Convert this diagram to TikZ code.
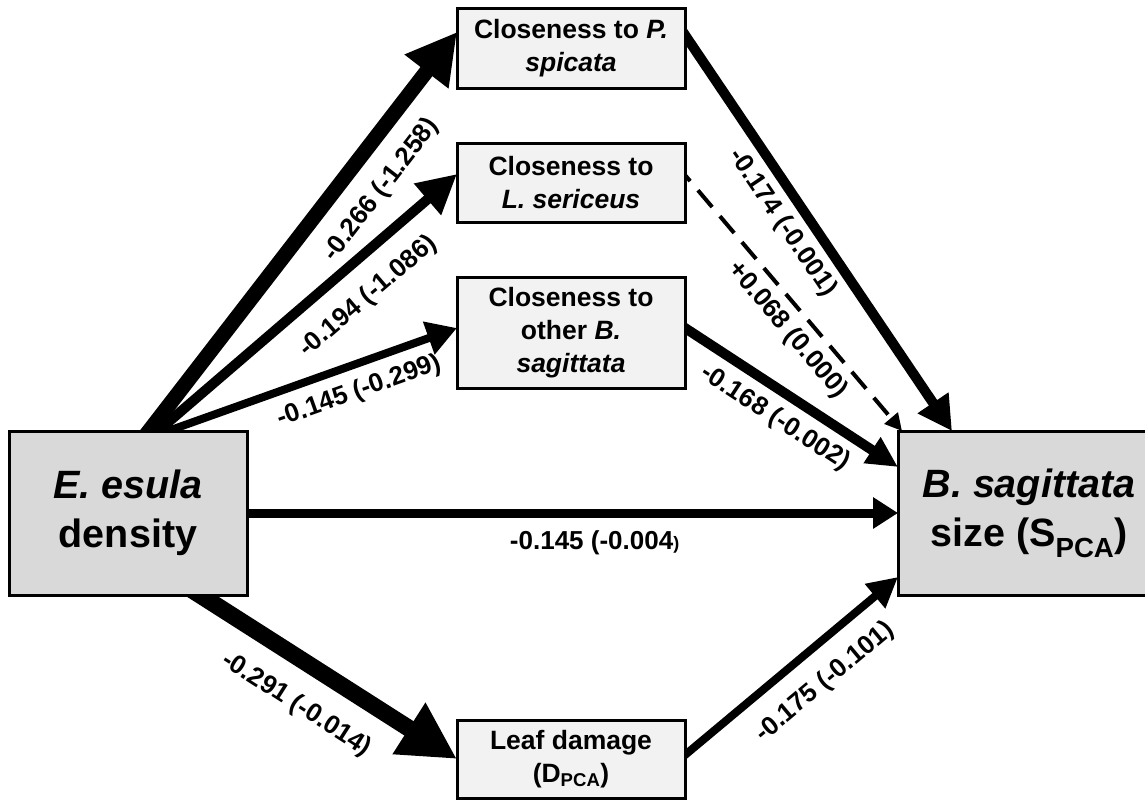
\documentclass[tikz,border=0pt]{standalone}
\usepackage{fontspec}
\setmainfont{Liberation Sans}
\usetikzlibrary{arrows.meta}
\pgfdeclarelayer{bg}
\pgfsetlayers{bg,main}
\definecolor{bigfill}{HTML}{D9D9D9}
\definecolor{smallfill}{HTML}{F2F2F2}
\begin{document}
\begin{tikzpicture}[x=1pt,y=-1pt,
  bigbox/.style={draw=black, line width=3pt, fill=bigfill, minimum width=238pt, minimum height=164pt,
    outer sep=0pt, inner sep=0pt, align=center, font=\fontsize{39.5}{49}\selectfont\bfseries},
  smallbox/.style={draw=black, line width=3pt, fill=smallfill, minimum width=228pt, outer sep=0pt,
    inner sep=0pt, align=center, font=\fontsize{26.5}{33}\selectfont\bfseries},
  lbl/.style={font=\fontsize{26}{26}\selectfont\bfseries, inner sep=0pt, sloped},
  conn/.style={line width=#1, shorten <=-14pt},
]
\useasboundingbox (0,0) rectangle (1145,800);
\clip (0,0) rectangle (1145,800);

% nodes
\node[bigbox] (E) at (128,513) {\textit{E. esula}\\density};
\node[bigbox, minimum width=262pt] (B) at (1029,513) {\textit{B. sagittata}\\size (S\textsubscript{PCA})};
\node[smallbox, minimum height=79pt] (P) at (571,48.5) {Closeness to \textit{P.}\\\textit{spicata}};
\node[smallbox, minimum height=79pt] (L) at (571,182.5) {Closeness to\\\textit{L. sericeus}};
\node[smallbox, minimum height=111pt] (O) at (571,332.5) {Closeness to\\other \textit{B.}\\\textit{sagittata}};
\node[smallbox, minimum height=78pt] (D) at (571,759) {Leaf damage\\(D\textsubscript{PCA})};

% connectors
\begin{pgfonlayer}{bg}
\draw[conn=15pt, -{Triangle[length=50pt,width=52pt]}]
  ([xshift=21pt]E.north) -- ([yshift=-23pt]P.north west)
  node[lbl, pos=0.66, below=17pt] {-0.266 (-1.258)};
\draw[conn=10pt, -{Triangle[length=39pt,width=39pt]}]
  ([xshift=30pt]E.north) -- ([yshift=-31pt]L.north west)
  node[lbl, pos=0.626, below=18pt] {-0.194 (-1.086)};
\draw[conn=8pt, -{Triangle[length=30pt,width=33pt]}]
  ([xshift=40pt]E.north) -- ([yshift=-51pt]O.north west)
  node[lbl, pos=0.63, below=11pt] {-0.145 (-0.299)};
\draw[conn=10pt, -{Triangle[length=34pt,width=35pt]}]
  ([yshift=-26pt]P.north east) -- ([xshift=54pt]B.north west)
  node[lbl, pos=0.44, below=7pt] {-0.174 (-0.001)};
\draw[conn=4pt, dash pattern=on 22pt off 12pt, -{Triangle[length=17pt,width=17pt]}]
  ([yshift=-32pt]L.north east) -- ([xshift=4pt]B.north west)
  node[lbl, pos=0.55, below=8pt] {+0.068 (0.000)};
\draw[conn=10pt, -{Triangle[length=31pt,width=29pt]}]
  ([yshift=-51pt]O.north east) -- ([yshift=-36pt]B.north west)
  node[lbl, pos=0.49, below=9pt] {-0.168 (-0.002)};
\draw[conn=9pt, -{Triangle[length=25pt,width=30pt]}]
  (E.east) -- (B.west)
  node[lbl, pos=0.534, below=13pt] {-0.145 (-0.004{\fontsize{18}{18}\selectfont )}};
\draw[conn=17pt, -{Triangle[length=57pt,width=57pt]}]
  ([xshift=-47pt]E.south east) -- (D.west)
  node[lbl, pos=0.46, below=20pt] {-0.291 (-0.014)};
\draw[conn=8pt, -{Triangle[length=30pt,width=30pt]}]
  ([yshift=4pt]D.east) -- ([yshift=18pt]B.south west)
  node[lbl, pos=0.555, below=18pt] {-0.175 (-0.101)};
\end{pgfonlayer}
\end{tikzpicture}
\end{document}
